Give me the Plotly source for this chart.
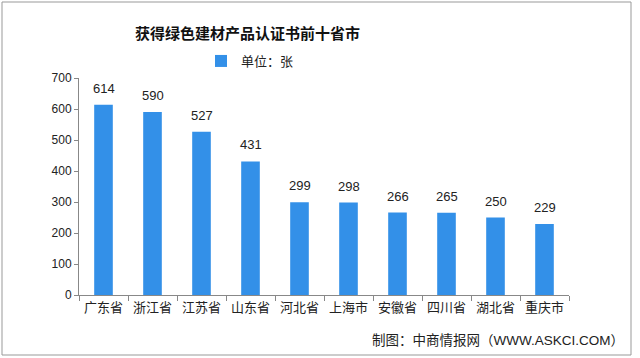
import plotly.graph_objects as go

categories = ["广东省", "浙江省", "江苏省", "山东省", "河北省", "上海市", "安徽省", "四川省", "湖北省", "重庆市"]
values = [614, 590, 527, 431, 299, 298, 266, 265, 250, 229]
y_ticks = [0, 100, 200, 300, 400, 500, 600, 700]
series_name = "单位：张"
title_text = "获得绿色建材产品认证书前十省市"
source_text = "制图：中商情报网（WWW.ASKCI.COM）"

W, H = 640, 358
L, R, T, B = 79, 71, 78, 63
pw, ph = W - L - R, H - T - B

def px(x):
    return (x - L) / pw

def py(y):
    return (H - B - y) / ph

font_cn = "Liberation Sans, Noto Sans CJK SC, sans-serif"

fig = go.Figure()
fig.add_trace(go.Bar(
    x=categories, y=values, name=series_name,
    marker=dict(color="#3390E8", line=dict(width=0)),
    width=0.38,
))

for c, v in zip(categories, values):
    fig.add_annotation(x=c, y=v, text=str(v), showarrow=False, yanchor="bottom", yshift=7,
                       font=dict(size=13, color="#222", family=font_cn))

fig.update_layout(
    width=W, height=H,
    margin=dict(l=L, r=R, t=T, b=B, autoexpand=False),
    paper_bgcolor="white", plot_bgcolor="white",
    showlegend=True,
    legend=dict(orientation="h", x=px(201), y=py(61), xanchor="left", yanchor="middle",
                font=dict(size=13, color="#222", family=font_cn),
                itemwidth=30, bgcolor="rgba(0,0,0,0)"),
    xaxis=dict(showline=True, linecolor="#888", linewidth=1,
               ticks="outside", tickson="boundaries", ticklen=5, tickcolor="#888",
               tickfont=dict(size=13, color="#222", family=font_cn),
               showgrid=False),
    yaxis=dict(range=[0, 700], tickvals=y_ticks, showline=True, linecolor="#888", linewidth=1,
               ticks="outside", ticklen=4, tickcolor="#888",
               tickfont=dict(size=12, color="#222", family=font_cn),
               showgrid=False, zeroline=False),
)

fig.add_annotation(text="<b>" + title_text + "</b>", x=px(247), y=py(33), xref="paper", yref="paper",
                   showarrow=False, xanchor="center", yanchor="middle",
                   font=dict(size=15, color="#111", family="Noto Sans CJK SC, sans-serif"))
fig.add_annotation(text=source_text, x=px(626), y=py(340), xref="paper", yref="paper",
                   showarrow=False, xanchor="right", yanchor="middle",
                   font=dict(size=13.5, color="#222", family=font_cn))

fig.add_shape(type="rect", xref="paper", yref="paper",
              x0=px(2), x1=px(631), y0=py(355), y1=py(2),
              line=dict(color="#999", width=1), fillcolor="rgba(0,0,0,0)", layer="below")

fig.write_html("out.html", config={"displayModeBar": False},
               post_script="document.body.style.margin='0';document.body.style.overflow='hidden';")
